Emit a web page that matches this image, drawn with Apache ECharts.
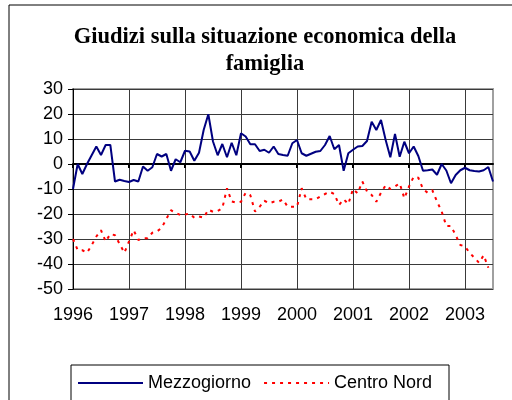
<!DOCTYPE html>
<html>
<head>
<meta charset="utf-8">
<script src="https://cdn.jsdelivr.net/npm/echarts@6/dist/echarts.min.js"></script>
<style>
html,body{margin:0;padding:0;background:#fff;}
#main{width:512px;height:400px;}
</style>
</head>
<body>
<div id="main"></div>
<script>
// giudizi sulla situazione economica della famiglia, dati mensili 1996-2003
var anni = ['1996', '1997', '1998', '1999', '2000', '2001', '2002', '2003'];
var mesiUltimoAnno = 7;

var mezzogiorno = [
	-10, 0, -4, 0, 3.5, 7, 3.6, 7.6, 7.6, -7, -6.3, -6.8,
	-7.2, -6.4, -7, -1, -2.7, -1.3, 4, 3, 4, -2.7, 1.9, 0.7,
	5.3, 5, 1.3, 4.5, 13.6, 19.9, 9, 3.5, 8, 2.7, 8.5, 3.5,
	12.3, 11, 7.9, 7.9, 5.2, 5.7, 4.5, 7, 4, 3.6, 3.3, 8.3,
	9.6, 4.3, 3.3, 4.1, 4.9, 5.2, 7.6, 11.2, 5.9, 7.6, -2.7, 4.3,
	5.7, 7, 7.2, 9.2, 16.9, 13.6, 17.6, 9.6, 2.7, 12, 2.9, 8.9,
	4.3, 7, 3.2, -2.7, -2.5, -2.2, -4.3, 0, -2.6, -7.7, -4.4, -2.5,
	-1.5, -2.5, -2.8, -3, -2.5, -1.2, -7
];
var centroNord = [
	-30, -34.4, -34.5, -35.5, -32.5, -29, -26.5, -31, -28, -28.5, -32, -35.5,
	-31, -26.5, -30.4, -29.7, -29.7, -27.5, -27, -25.5, -22, -18.5, -19.5, -20.4,
	-20.2, -19.8, -21.5, -21, -21.5, -18.3, -19.1, -18.8, -17.7, -9.7, -15, -15.5,
	-15.1, -11.5, -12.5, -19, -17.1, -14.7, -15.7, -15.1, -15.1, -14.2, -17.1, -17.1,
	-17.1, -9.7, -14.1, -14.1, -14.1, -13, -12, -11.1, -12, -16.4, -14.1, -16,
	-10, -11.7, -7, -11, -12.4, -15.1, -11.5, -8.5, -10, -9, -7.7, -13.7,
	-9, -5.1, -5.5, -10, -11.5, -10.5, -15, -19, -24.8, -24.8, -28.5, -32.4,
	-33, -35.5, -37.5, -39.5, -36.5, -41.5, null
];

var mesi = [];
anni.forEach(function (a, k) {
	var n = k === anni.length - 1 ? mesiUltimoAnno : 12;
	for (var m = 1; m <= n; m++) {
		mesi.push(a + '-' + (m < 10 ? '0' + m : m));
	}
});

function inizioAnno(idx) {
	return idx % 12 === 0;
}

var myChart = echarts.init(document.getElementById('main'));
var option = {
	backgroundColor: '#fff',
	animation: false,
	textStyle: { fontFamily: 'Liberation Sans' },
	graphic: [
		{
			type: 'rect',
			shape: { x: 9, y: 5, width: 560, height: 460 },
			style: { fill: 'none', stroke: '#000', lineWidth: 1 }
		},
		{
			type: 'rect',
			shape: { x: 71, y: 365, width: 378, height: 60 },
			style: { fill: 'none', stroke: '#000', lineWidth: 1 }
		},
		{
			type: 'text',
			x: 265,
			y: 51,
			style: {
				text: 'Giudizi sulla situazione economica della\nfamiglia',
				fontFamily: 'Liberation Serif',
				fontWeight: 'bold',
				fontSize: 22.5,
				lineHeight: 27,
				fill: '#000',
				align: 'center',
				verticalAlign: 'middle'
			}
		}
	],
	grid: {
		left: 73,
		right: 19,
		top: 89,
		bottom: 111,
		show: true,
		borderColor: '#a0a0a0',
		borderWidth: 2
	},
	legend: {
		left: 77,
		top: 374,
		padding: 0,
		itemWidth: 65,
		itemHeight: 14,
		itemGap: 12,
		itemStyle: { color: 'rgba(0,0,0,0)', borderWidth: 0 },
		textStyle: { fontSize: 18, color: '#000', fontFamily: 'Liberation Sans' },
		data: ['Mezzogiorno', 'Centro Nord']
	},
	xAxis: [
		{
			type: 'category',
			position: 'bottom',
			boundaryGap: false,
			data: mesi,
			axisLine: { show: false, onZero: false },
			axisTick: { show: false },
			axisLabel: {
				interval: inizioAnno,
				formatter: function (v) { return v.slice(0, 4); },
				fontSize: 18,
				color: '#000',
				margin: 17
			},
			splitLine: {
				show: true,
				interval: inizioAnno,
				lineStyle: { color: '#3a3a3a', width: 1 }
			}
		},
		{
			type: 'category',
			position: 'bottom',
			boundaryGap: false,
			data: mesi,
			axisLine: { show: true, onZero: true, lineStyle: { color: '#000', width: 2 } },
			axisTick: { show: true, interval: inizioAnno, length: 4, lineStyle: { color: '#000', width: 2 } },
			axisLabel: { show: false },
			splitLine: { show: false }
		}
	],
	yAxis: {
		type: 'value',
		min: -50,
		max: 30,
		interval: 10,
		axisLine: { show: true, lineStyle: { color: '#000', width: 1 } },
		axisTick: { show: true, length: 5, lineStyle: { color: '#000' } },
		axisLabel: { fontSize: 18, color: '#000', margin: 10 },
		splitLine: { show: true, lineStyle: { color: '#3a3a3a', width: 1 } }
	},
	series: [
		{
			name: 'Mezzogiorno',
			type: 'line',
			xAxisIndex: 0,
			data: mezzogiorno,
			symbol: 'none',
			lineStyle: { color: '#000080', width: 2 },
			itemStyle: { color: '#000080' }
		},
		{
			name: 'Centro Nord',
			type: 'line',
			xAxisIndex: 0,
			data: centroNord,
			symbol: 'none',
			lineStyle: { color: '#ff0000', width: 2, type: [3, 5] },
			itemStyle: { color: '#ff0000' }
		}
	]
};
myChart.setOption(option);
</script>
</body>
</html>
